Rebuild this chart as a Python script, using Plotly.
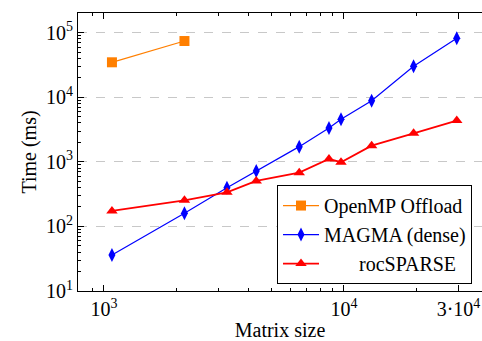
import plotly.graph_objects as go

# Data
omp_x = [1080, 2165]
omp_y = [34800, 74300]

magma_x = [1080, 2165, 3255, 4310, 6510, 8660, 9720, 13040, 19500, 29500]
magma_y = [36, 160, 398, 723, 1720, 3350, 4560, 8850, 30200, 81900]

roc_x = [1080, 2165, 3255, 4310, 6510, 8660, 9720, 13040, 19500, 29500]
roc_y = [174, 254, 338, 506, 680, 1110, 987, 1780, 2770, 4350]

x_tickvals = [1000, 10000, 30000]
x_ticktext = ["10<sup>3</sup>", "10<sup>4</sup>", "3·10<sup>4</sup>"]
x_minorvals = [900, 2000, 3000, 4000, 5000, 6000, 7000, 8000, 9000, 20000]
y_tickvals = [10, 100, 1000, 10000, 100000]
y_ticktext = ["10<sup>1</sup>", "10<sup>2</sup>", "10<sup>3</sup>", "10<sup>4</sup>", "10<sup>5</sup>"]
y_minorvals = [m * 10 ** e for e in range(1, 6) for m in range(2, 10)]

FONT = "Liberation Serif"
FS = 20

fig = go.Figure()
fig.add_trace(go.Scatter(x=omp_x, y=omp_y, mode="lines+markers", name="OpenMP Offload",
                         line=dict(color="#ff7f00", width=1.2),
                         marker=dict(symbol="square", size=10, color="#ff7f00")))
fig.add_trace(go.Scatter(x=magma_x, y=magma_y, mode="lines+markers", name="MAGMA (dense)",
                         line=dict(color="#0000ff", width=1.2),
                         marker=dict(symbol="diamond-tall", size=10, color="#0000ff")))
fig.add_trace(go.Scatter(x=roc_x, y=roc_y, mode="lines+markers",
                         name="\u00a0\u00a0\u00a0\u00a0\u00a0\u00a0\u00a0rocSPARSE",
                         line=dict(color="#ff0000", width=1.8),
                         marker=dict(symbol="triangle-up", size=10, color="#ff0000")))

fig.update_layout(
    width=482, height=341,
    margin=dict(l=78, r=0, t=13, b=50),
    paper_bgcolor="white", plot_bgcolor="white",
    font=dict(family=FONT, size=FS, color="black"),
    showlegend=True,
    legend=dict(x=0.4926, y=0.025, xanchor="left", yanchor="bottom",
                bgcolor="white", bordercolor="black", borderwidth=1,
                font=dict(family=FONT, size=FS), tracegroupgap=0, itemwidth=36),
)

fig.update_xaxes(
    type="log", range=[2.892, 4.575], automargin=False,
    tickvals=x_tickvals, ticktext=x_ticktext,
    ticks="inside", ticklen=6, tickcolor="black", tickwidth=1,
    tickfont=dict(family=FONT, size=FS),
    minor=dict(tickvals=x_minorvals, ticks="inside", ticklen=3, tickcolor="black", showgrid=False),
    showline=True, linecolor="black", linewidth=1, mirror="ticks",
    showgrid=False, zeroline=False,
    title=dict(text="Matrix size", standoff=6, font=dict(family=FONT, size=FS)),
)
fig.update_yaxes(
    type="log", range=[1, 5.305], automargin=False,
    tickvals=y_tickvals, ticktext=y_ticktext,
    ticks="inside", ticklen=6, tickcolor="black", tickwidth=1,
    tickfont=dict(family=FONT, size=FS),
    minor=dict(tickvals=y_minorvals, ticks="inside", ticklen=3, tickcolor="black", showgrid=False),
    showline=True, linecolor="black", linewidth=1, mirror=False,
    showgrid=True, gridcolor="#c8c8c8", griddash="dash", gridwidth=1,
    zeroline=False,
    title=dict(text="Time (ms)", standoff=4, font=dict(family=FONT, size=FS)),
)

fig.write_html("out.html")
